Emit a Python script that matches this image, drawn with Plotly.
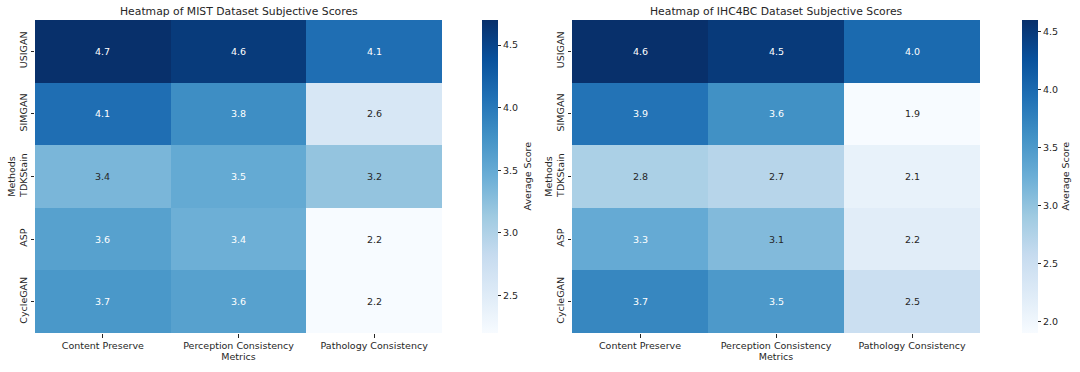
import plotly.graph_objects as go

methods = ["USIGAN", "SIMGAN", "TDKStain", "ASP", "CycleGAN"]
metrics = ["Content Preserve", "Perception Consistency", "Pathology Consistency"]

mist_content = [4.7, 4.1, 3.36, 3.6, 3.7]
mist_perception = [4.6, 3.8, 3.5, 3.44, 3.6]
mist_pathology = [4.1, 2.6, 3.2, 2.2, 2.2]

ihc_content = [4.6, 3.9, 2.8, 3.3, 3.7]
ihc_perception = [4.5, 3.6, 2.7, 3.1, 3.5]
ihc_pathology = [4.0, 1.9, 2.1, 2.2, 2.5]

titles = ["Heatmap of MIST Dataset Subjective Scores", "Heatmap of IHC4BC Dataset Subjective Scores"]

BLUES = ["#f7fbff", "#deebf7", "#c6dbef", "#9ecae1", "#6baed6",
         "#4292c6", "#2171b5", "#08519c", "#08306b"]
colorscale = [[i / 8, c] for i, c in enumerate(BLUES)]
FONT = "DejaVu Sans"
TXT = "#262626"


def hex2rgb(h):
    h = h.lstrip("#")
    return [int(h[i:i + 2], 16) for i in (0, 2, 4)]


def color_at(t):
    t = min(max(t, 0), 1)
    pos = t * 8
    i = min(int(pos), 7)
    f = pos - i
    a, b = hex2rgb(BLUES[i]), hex2rgb(BLUES[i + 1])
    return [a[k] + (b[k] - a[k]) * f for k in range(3)]


def luminance(rgb):
    out = []
    for c in rgb:
        c = c / 255
        out.append(c / 12.92 if c <= 0.03928 else ((c + 0.055) / 1.055) ** 2.4)
    return 0.2126 * out[0] + 0.7152 * out[1] + 0.0722 * out[2]


def matrix(cols):
    return [[cols[j][i] for j in range(len(cols))] for i in range(len(methods))]


datasets = [
    matrix([mist_content, mist_perception, mist_pathology]),
    matrix([ihc_content, ihc_perception, ihc_pathology]),
]

W, H = 1080, 372
plot_x = [(35, 442), (572, 980)]
cbar_x = [482, 1022]
cbar_title_x = [527, 1065]
top, bottom = 20, 333

fig = go.Figure()
annotations = []
layout = {}
for k, z in enumerate(datasets):
    flat = [v for row in z for v in row]
    zmin, zmax = min(flat), max(flat)
    suffix = "" if k == 0 else str(k + 1)
    xa, ya = "x" + suffix, "y" + suffix
    fig.add_trace(go.Heatmap(
        z=z, x=metrics, y=methods, xaxis=xa, yaxis=ya,
        colorscale=colorscale, zmin=zmin, zmax=zmax,
        colorbar=dict(
            x=cbar_x[k] / W, xanchor="left", xref="paper",
            y=1 - (top + bottom) / 2 / H, yanchor="middle",
            len=(bottom - top) / H, lenmode="fraction",
            thickness=16, thicknessmode="pixels", xpad=0, ypad=0,
            outlinewidth=0, ticks="outside", ticklen=3.5, tickwidth=0.8,
            tickcolor=TXT, dtick=0.5, tickformat=".1f",
            tickfont=dict(family=FONT, size=9.5, color=TXT),
        ),
    ))
    annotations.append(dict(
        x=cbar_title_x[k] / W, y=1 - (top + bottom) / 2 / H,
        xref="paper", yref="paper", text="Average Score", textangle=-90,
        showarrow=False, xanchor="center", yanchor="middle",
        font=dict(family=FONT, size=9.5, color=TXT)))
    for i, m in enumerate(methods):
        for j, met in enumerate(metrics):
            v = z[i][j]
            t = (v - zmin) / (zmax - zmin)
            col = TXT if luminance(color_at(t)) > 0.408 else "white"
            annotations.append(dict(
                x=met, y=m, xref=xa, yref=ya, text=f"{v:.1f}",
                showarrow=False, font=dict(family=FONT, size=9.5, color=col)))
    x0, x1 = plot_x[k]
    layout["xaxis" + suffix] = dict(
        domain=[x0 / W, x1 / W], anchor=ya, showgrid=False, zeroline=False,
        automargin=False,
        ticks="outside", ticklen=3.5, tickwidth=0.8, tickcolor=TXT,
        tickfont=dict(family=FONT, size=9.5, color=TXT),
        title=dict(text="Metrics", standoff=0,
                   font=dict(family=FONT, size=9.5, color=TXT)),
    )
    layout["yaxis" + suffix] = dict(
        domain=[1 - bottom / H, 1 - top / H], anchor=xa, showgrid=False,
        zeroline=False, autorange="reversed", automargin=False,
        ticks="outside", ticklen=3.5, tickwidth=0.8, tickcolor=TXT,
        tickangle=-90,
        tickfont=dict(family=FONT, size=9.5, color=TXT),
        title=dict(text="Methods", standoff=0,
                   font=dict(family=FONT, size=9.5, color=TXT)),
    )
    annotations.append(dict(
        x=(x0 + x1) / 2 / W, y=1 - 12 / H, xref="paper", yref="paper",
        text=titles[k], showarrow=False, xanchor="center", yanchor="middle",
        borderpad=0,
        font=dict(family=FONT, size=10.8, color=TXT)))

fig.update_layout(
    width=W, height=H, margin=dict(l=0, r=0, t=0, b=0, autoexpand=False),
    paper_bgcolor="white", plot_bgcolor="white",
    annotations=annotations, **layout)

fig.write_html(
    "out.html",
    config={"displayModeBar": False},
    post_script="document.body.style.margin='0';document.body.style.overflow='hidden';",
)
